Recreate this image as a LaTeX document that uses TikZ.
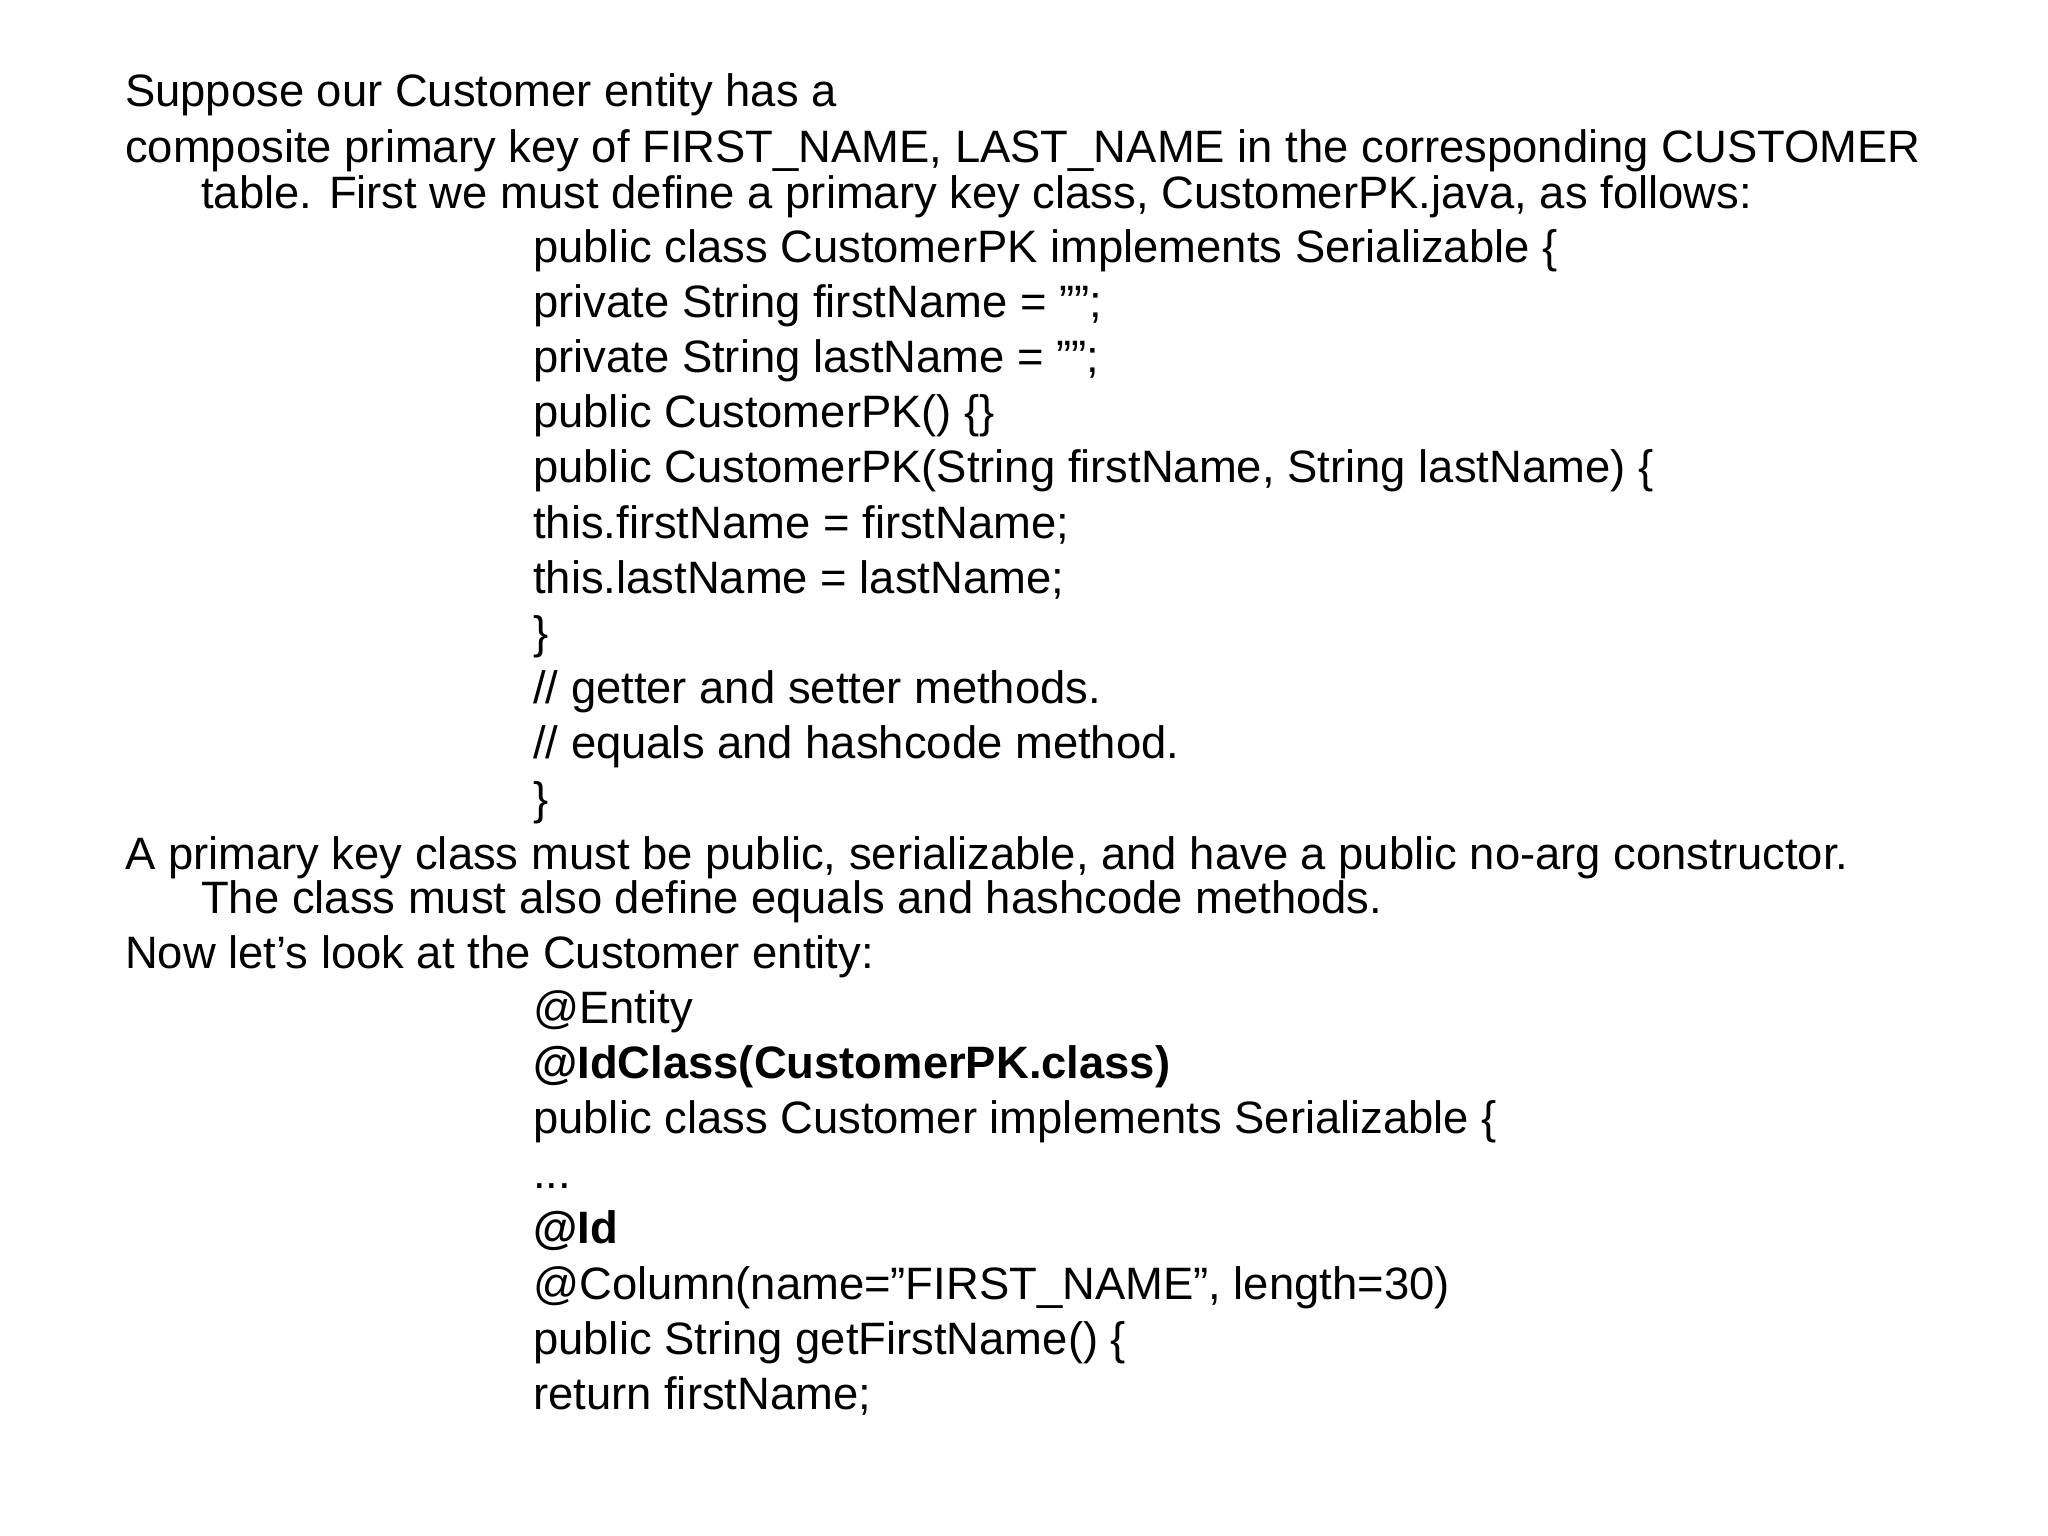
\documentclass[tikz,border=0pt]{standalone}
\usepackage{fontspec}
\setmainfont{Liberation Sans}
\newcommand{\dq}{\symbol{34}}
\newcommand{\sq}{\symbol{39}}
\begin{document}
\begin{tikzpicture}[x=1pt,y=-1pt,
  txt/.style={anchor=base west,inner sep=0pt,font=\fontsize{45.4}{45.4}\selectfont}]
\useasboundingbox (0,0) rectangle (2048,1536);
\node[txt] (l1) at (125,107) {Suppose our Customer entity has a};
\node[txt] (l2) at (125,163) {composite primary key of FIRST\_NAME, LAST\_NAME in the corresponding CUSTOMER};
\node[txt] (l3) at (201,208) {table. First we must define a primary key class, CustomerPK.java, as follows:};
\node[txt] (c0) at (533,262.0) {public class CustomerPK implements Serializable \{};
\node[txt] (c1) at (533,317.2) {private String firstName = \dq\dq;};
\node[txt] (c2) at (533,372.4) {private String lastName = \dq\dq;};
\node[txt] (c3) at (533,427.6) {public CustomerPK() \{\}};
\node[txt] (c4) at (533,482.8) {public CustomerPK(String firstName, String lastName) \{};
\node[txt] (c5) at (533,538.0) {this.firstName = firstName;};
\node[txt] (c6) at (533,593.2) {this.lastName = lastName;};
\node[txt] (c7) at (533,648.4) {\}};
\node[txt] (c8) at (533,703.6) {// getter and setter methods.};
\node[txt] (c9) at (533,758.8) {// equals and hashcode method.};
\node[txt] (c10) at (533,814.0) {\}};
\node[txt] (p1) at (125,869) {A primary key class must be public, serializable, and have a public no-arg constructor.};
\node[txt] (p2) at (201,913) {The class must also define equals and hashcode methods.};
\node[txt] (p3) at (125,968) {Now let\sq s look at the Customer entity:};
\node[txt] (d0) at (533,1023.0) {@Entity};
\node[txt] (d1) at (533,1078.2) {\textbf{@IdClass(CustomerPK.class)}};
\node[txt] (d2) at (533,1133.4) {public class Customer implements Serializable \{};
\node[txt] (d3) at (533,1188.6) {...};
\node[txt] (d4) at (533,1243.8) {\textbf{@Id}};
\node[txt] (d5) at (533,1299.0) {@Column(name=\dq FIRST\_NAME\dq, length=30)};
\node[txt] (d6) at (533,1354.2) {public String getFirstName() \{};
\node[txt] (d7) at (533,1409.4) {return firstName;};
\end{tikzpicture}
\end{document}
